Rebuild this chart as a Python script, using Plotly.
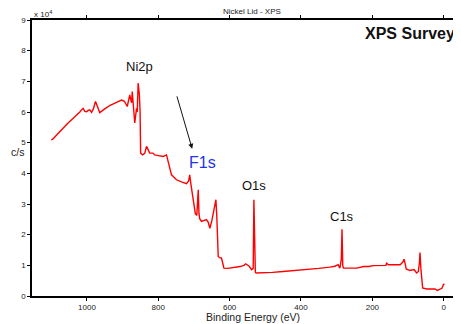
import plotly.graph_objects as go

# Binding energy (eV) and intensity (units of 10^4 c/s)
energy_ev = [
    1100, 1095, 1085, 1070, 1055, 1040, 1030, 1020, 1015, 1011, 1006, 1001, 996, 992, 987, 982,
    976, 970, 964, 950, 935, 920, 903, 895, 887, 880, 875, 873, 869, 866, 861, 859, 856.5, 853,
    851, 849.5, 844, 838, 833, 828, 824, 815, 810, 796, 786, 777, 772, 768, 763, 758, 749, 735,
    721, 715, 712, 708, 704, 700, 696, 692, 689.5, 688, 686, 684, 679, 672, 665, 660, 655.5, 650,
    646, 641, 638.5, 636, 633, 632, 628, 623, 620, 616, 605, 599, 585, 571, 560, 555, 550, 545,
    538.5, 534, 532, 530, 528, 526, 506, 480, 450, 412, 380, 350, 319, 305, 296, 291, 287, 285,
    283, 281, 260, 244, 225, 210, 197.5, 180, 162, 160, 155, 135, 122, 115, 111, 107, 105, 95,
    83, 76, 71, 68, 66.5, 64, 61, 59, 48, 35, 24, 18, 14, 10, 5, 1, -2,
]
counts_e4 = [
    5.09, 5.12, 5.25, 5.45, 5.62, 5.78, 5.88, 6.00, 6.07, 6.12, 6.02, 6.01, 6.05, 6.07, 5.99, 6.10,
    6.34, 6.12, 5.98, 6.10, 6.22, 6.30, 6.39, 6.35, 6.18, 6.56, 6.30, 6.67, 6.20, 5.64, 6.12, 6.00, 6.94, 6.56,
    6.00, 4.66, 4.60, 4.65, 4.88, 4.72, 4.66, 4.66, 4.60, 4.57, 4.55, 4.60, 4.33, 4.11, 3.95, 3.90, 3.79, 3.72,
    3.66, 3.75, 3.95, 3.60, 3.30, 2.92, 2.68, 2.63, 3.00, 3.46, 2.70, 2.52, 2.43, 2.47, 2.49, 2.40, 2.21, 2.45,
    2.70, 3.00, 3.14, 2.60, 1.60, 1.29, 1.25, 1.24, 1.10, 0.91, 0.90, 0.91, 0.93, 0.96, 1.00, 1.05, 1.01, 0.97,
    0.86, 0.90, 3.14, 1.20, 0.78, 0.75, 0.75, 0.77, 0.80, 0.83, 0.87, 0.90, 0.94, 0.97, 1.02, 0.91, 1.20, 2.18,
    1.00, 0.91, 0.91, 0.91, 0.96, 0.96, 0.99, 1.00, 1.00, 1.07, 1.02, 1.02, 1.02, 1.10, 1.20, 1.00, 0.88, 0.83,
    0.86, 0.75, 0.80, 1.10, 1.42, 0.90, 0.50, 0.26, 0.23, 0.22, 0.23, 0.18, 0.20, 0.20, 0.25, 0.37, 0.40,
]

x_ticks = [1000, 800, 600, 400, 200, 0]
y_ticks = [0, 1, 2, 3, 4, 5, 6, 7, 8, 9]

peak_labels = ["Ni2p", "F1s", "O1s", "C1s"]
peak_label_ev = [852, 675, 532, 285]
peak_label_y = [7.47, 4.34, 3.59, 2.6]

FONT = "Liberation Sans, Arial, sans-serif"

fig = go.Figure()
fig.add_trace(go.Scatter(
    x=energy_ev, y=counts_e4, mode="lines",
    line=dict(color="#ff0000", width=1.4),
    showlegend=False, hoverinfo="skip",
))

label_colors = ["#111111", "#2233ee", "#111111", "#111111"]
label_sizes = [13, 16, 13, 13]
for txt, xe, ye, c, s in zip(peak_labels, peak_label_ev, peak_label_y, label_colors, label_sizes):
    fig.add_annotation(x=xe, y=ye, text=txt, showarrow=False,
                       font=dict(family=FONT, size=s, color=c))

# arrow pointing toward the F1s region
fig.add_annotation(x=705, y=4.80, ax=749, ay=6.56, axref="x", ayref="y",
                   xref="x", yref="y", text="", showarrow=True,
                   arrowhead=2, arrowsize=1, arrowwidth=1, arrowcolor="#111111")

fig.add_annotation(x=0.99, y=0.952, xref="paper", yref="paper", xanchor="right", yanchor="middle",
                   text="<b>XPS Survey</b>", showarrow=False,
                   font=dict(family=FONT, size=16, color="#111111"))
fig.add_annotation(x=0.512, y=1.029, xref="paper", yref="paper", xanchor="center", yanchor="middle",
                   text="Nickel Lid - XPS", showarrow=False,
                   font=dict(family=FONT, size=8, color="#222222"))
fig.add_annotation(x=0.0, y=1.022, xref="paper", yref="paper", xanchor="left", yanchor="middle",
                   text="x 10<sup>4</sup>", showarrow=False,
                   font=dict(family=FONT, size=8, color="#222222"))
fig.add_annotation(x=-0.054, y=0.52, xref="paper", yref="paper", xanchor="left", yanchor="middle",
                   text="c/s", showarrow=False,
                   font=dict(family=FONT, size=10.5, color="#222222"))
fig.add_annotation(x=0.514, y=-0.075, xref="paper", yref="paper", xanchor="center", yanchor="middle",
                   text="Binding Energy (eV)", showarrow=False,
                   font=dict(family=FONT, size=10.5, color="#222222"))

fig.update_xaxes(
    range=[1154, -48.5], tickmode="array", tickvals=x_ticks,
    ticks="outside", ticklen=3, tickwidth=1, tickcolor="#000",
    showline=True, linecolor="#000", linewidth=1.6, mirror="ticks",
    showgrid=False, zeroline=False,
    tickfont=dict(family=FONT, size=8, color="#222222"),
)
fig.update_yaxes(
    range=[0, 9], tickmode="array", tickvals=y_ticks,
    ticks="outside", ticklen=3, tickwidth=1, tickcolor="#000",
    showline=True, linecolor="#000", linewidth=1.6,
    showgrid=False, zeroline=False,
    tickfont=dict(family=FONT, size=8, color="#222222"),
)
# the page body adds an 8 px offset, so the figure is sized/margined to compensate
fig.update_layout(
    width=453, height=316,
    margin=dict(l=24, r=0, t=12, b=28),
    paper_bgcolor="white", plot_bgcolor="white",
    font=dict(family=FONT),
)

fig.write_html("out.html")
